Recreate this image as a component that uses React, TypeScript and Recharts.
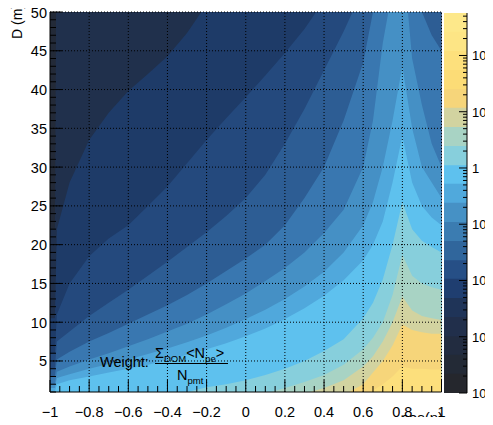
import { ComposedChart, Area, XAxis, YAxis } from 'recharts';

const FONT = '"Liberation Sans", Arial, Helvetica, sans-serif';

// cos(eta) sample positions
const cosEta = [-1, -0.975, -0.965, -0.9, -0.8, -0.7, -0.6, -0.5, -0.4, -0.3, -0.2, -0.1, 0, 0.1, 0.2, 0.3, 0.4, 0.5, 0.6, 0.65, 0.7, 0.75, 0.8, 0.85, 0.9, 0.95, 1];

// upper D edge (m) of each contour level at every cosEta
const level0 = [70, 70, 70, 70, 70, 70, 70, 70, 70, 70, 70, 70, 70, 70, 70, 70, 70, 70, 70, 70, 70, 70, 70, 70, 70, 70, 70];
const level1 = [22, 22, 70, 70, 70, 70, 70, 70, 70, 70, 70, 70, 70, 70, 70, 70, 70, 70, 70, 70, 70, 70, 70, 70, 70, 70, 70];
const level2 = [10.5, 10.5, 22, 28, 33.5, 37, 39.8, 42, 44.3, 47.3, 51, 55, 60, 65, 70, 70, 70, 70, 70, 70, 70, 70, 70, 70, 70, 70, 70];
const level3 = [6, 6, 11, 15, 18.5, 20.8, 22.5, 25, 27.5, 30.5, 33.5, 36.3, 39, 41.8, 44.7, 47.8, 51.5, 56, 62, 66, 70, 70, 70, 70, 70, 70, 70];
const level4 = [4, 4, 7.5, 8.8, 10.8, 12.5, 14.2, 16, 17.8, 19.7, 21.6, 23.7, 26, 29, 33, 37.5, 42.5, 47.5, 53, 57, 62, 66, 70, 70, 68, 62, 58];
const level5 = [3, 3, 5.2, 6.2, 7.5, 8.6, 9.8, 11, 12.2, 13.5, 15, 16.6, 18.2, 20, 22.5, 26, 30, 36, 43.5, 50, 56, 62, 70, 58, 50, 47, 45];
const level6 = [2, 2, 3.6, 4.3, 5.2, 6, 6.9, 7.8, 8.8, 9.8, 11, 12.3, 13.7, 15.3, 17, 19, 21.5, 24.5, 30, 36, 46, 53, 58, 44, 38, 33, 30];
const level7 = [1.5, 1.5, 2.8, 3.3, 4, 4.6, 5.2, 5.9, 6.6, 7.4, 8.3, 9.3, 10.4, 11.6, 13, 14.6, 16.5, 19, 22.5, 25.5, 30, 36, 43, 35, 30, 28, 26];
const level8 = [1, 1, 2, 2.5, 3, 3.5, 4, 4.5, 5.1, 5.8, 6.5, 7.3, 8.2, 9.2, 10.4, 11.8, 13.4, 15.4, 18, 20, 23, 28, 34, 28, 25, 23.5, 22.5];
const level9 = [0, 0, 0, 0, 0, 0, 0, 0, 0.5, 1, 1.6, 2, 2.5, 3.2, 4, 5, 6.3, 7.8, 10.5, 12.5, 15.5, 20, 25.5, 22, 20.5, 19.7, 19];
const level10 = [0, 0, 0, 0, 0, 0, 0, 0, 0, 0, 0, 0, 0, 0.8, 1.5, 2.3, 3.2, 4.5, 6.5, 8, 10, 13.5, 18.7, 16, 15, 14.5, 14.2];
const level11 = [0, 0, 0, 0, 0, 0, 0, 0, 0, 0, 0, 0, 0, 0, 0, 0.8, 1.5, 2.5, 4.3, 5.6, 7.5, 10, 13.3, 11.5, 10.8, 10.5, 10.3];
const level12 = [0, 0, 0, 0, 0, 0, 0, 0, 0, 0, 0, 0, 0, 0, 0, 0, 0, 0.6, 2, 3.5, 5, 7, 9.7, 9, 8.7, 8.5, 8.5];
const level13 = [0, 0, 0, 0, 0, 0, 0, 0, 0, 0, 0, 0, 0, 0, 0, 0, 0, 0, 0.5, 1.2, 2, 3, 4.3, 4, 4, 3.9, 3.9];

const levels = [level0, level1, level2, level3, level4, level5, level6, level7, level8, level9, level10, level11, level12, level13];
const levelColors = ['#232a38', '#20304c', '#1e3b68', '#24497d', '#2d5d94', '#3977b0', '#4590c5', '#50a8dc', '#5ec1ee', '#87cfdc', '#a8d3c4', '#d2d3a0', '#f6d57a', '#fcdf7c'];

// colour bar: log10 edges of the 20 bands and their colours (bottom -> top)
const barEdges = [-4, -3.66, -3.32, -2.99, -2.65, -2.31, -1.97, -1.64, -1.3, -0.96, -0.62, -0.28, 0.05, 0.39, 0.73, 1.07, 1.4, 1.74, 2.08, 2.42, 2.755];
const barColors = ['#25272d', '#232a36', '#222c40', '#212f4b', '#1f3458', '#1f3e70', '#264f86', '#30669c', '#3b7cb1', '#4691c5', '#50a9dc', '#5ec1ee', '#87cfdc', '#a8d3c4', '#d2d3a0', '#f6d57a', '#fcdc76', '#fde07c', '#fde585', '#fde88a'];
const barDecades = [-4, -3, -2, -1, 0, 1, 2];

const xMajor = [-1, -0.8, -0.6, -0.4, -0.2, 0, 0.2, 0.4, 0.6, 0.8, 1];
const yMajor = [5, 10, 15, 20, 25, 30, 35, 40, 45, 50];

const PLOT_TOP = 12;
const PLOT_BOTTOM = 392;
const PLOT_LEFT = 50;
const PLOT_RIGHT = 441.5;

const xTicks: number[] = [];
for (let i = 0; i <= 40; i++) xTicks.push(Math.round((-1 + i * 0.05) * 100) / 100);
const yTicks: number[] = [];
for (let d = 1; d <= 50; d++) yTicks.push(d);
const barTicks: number[] = [];
barDecades.forEach((n) => {
  for (let k = 1; k <= 9; k++) {
    const v = n + Math.log10(k);
    if (v <= 2.755) barTicks.push(v);
  }
});

const rows = cosEta.map((x, i) => {
  const r: any = { x };
  levels.forEach((l, j) => (r[`l${j}`] = l[i]));
  return r;
});

const barRows = [0, 1].map((x) => {
  const r: any = { x };
  barEdges.slice(1).forEach((e, j) => (r[`b${j}`] = e));
  return r;
});

const fmtX = (v: number) => (v === 0 ? '0' : v < 0 ? `\u2212${Math.abs(v)}` : `${v}`);

function XTick({ x, y, payload }: any) {
  const v = payload.value;
  const major = xMajor.some((m) => Math.abs(m - v) < 1e-6);
  return (
    <g>
      {major && v > -1 && (
        <line x1={x} x2={x} y1={PLOT_BOTTOM} y2={PLOT_TOP} stroke="#000" strokeDasharray="1 2" />
      )}
      <line x1={x} x2={x} y1={y} y2={y - (major ? 12 : 6)} stroke="#000" />
      {major && (
        <text x={x} y={y + 25} textAnchor="middle" fontSize={14.5} fontFamily={FONT} fill="#000">
          {fmtX(v)}
        </text>
      )}
    </g>
  );
}

function YTick({ x, y, payload }: any) {
  const v = payload.value;
  const major = yMajor.includes(v);
  return (
    <g>
      {major && <line x1={PLOT_LEFT} x2={PLOT_RIGHT} y1={y} y2={y} stroke="#000" strokeDasharray="1 2" />}
      <line x1={x} x2={x + (major ? 12 : 6)} y1={y} y2={y} stroke="#000" />
      {major && (
        <text x={x - 3} y={y + 5.5} textAnchor="end" fontSize={14.5} fontFamily={FONT} fill="#000">
          {v}
        </text>
      )}
    </g>
  );
}

function BarTick({ x, y, payload }: any) {
  const v = payload.value;
  const major = Math.abs(v - Math.round(v)) < 1e-6;
  const n = Math.round(v);
  return (
    <g>
      <line x1={x} x2={x - (major ? 8 : 4)} y1={y} y2={y} stroke="#000" />
      {major && (
        <text x={x + 5} y={y + 5} fontSize={13} fontFamily={FONT} fill="#000">
          {n === 0 ? '1' : '10'}
          {n !== 0 && n !== 1 && (
            <tspan dy={-6} fontSize={9.5}>
              {n < 0 ? `\u2212${-n}` : `${n}`}
            </tspan>
          )}
        </text>
      )}
    </g>
  );
}

export default function App() {
  return (
    <div style={{ position: 'relative', width: 493, height: 425, margin: -8, overflow: 'hidden', background: '#fff' }}>
      <div style={{ position: 'absolute', left: 0, top: 0 }}>
        <ComposedChart width={493} height={425} data={rows} margin={{ top: PLOT_TOP, right: 493 - PLOT_RIGHT, bottom: 0, left: 0 }}>
          {levels.map((_, j) => (
            <Area
              key={j}
              dataKey={`l${j}`}
              type="linear"
              fill={levelColors[j]}
              fillOpacity={1}
              stroke="none"
              dot={false}
              activeDot={false}
              isAnimationActive={false}
            />
          ))}
          <XAxis
            type="number"
            dataKey="x"
            domain={[-1, 1]}
            ticks={xTicks}
            interval={0}
            allowDataOverflow
            height={33}
            tickSize={0}
            tickMargin={0}
            tick={<XTick />}
            axisLine={{ stroke: '#000' }}
          />
          <YAxis
            type="number"
            domain={[1, 50]}
            ticks={yTicks}
            interval={0}
            allowDataOverflow
            width={PLOT_LEFT}
            tickSize={0}
            tickMargin={0}
            tick={<YTick />}
            axisLine={{ stroke: '#000' }}
          />
        </ComposedChart>
      </div>
      <div style={{ position: 'absolute', left: 0, top: 0 }}>
        <ComposedChart width={493} height={425} data={barRows} margin={{ top: 13, right: 0, bottom: 32, left: 444 }}>
          {barEdges.slice(1).map((_, j) => barEdges.length - 2 - j).map((j) => (
            <Area
              key={j}
              dataKey={`b${j}`}
              type="linear"
              baseValue={-4}
              fill={barColors[j]}
              fillOpacity={1}
              stroke="none"
              dot={false}
              activeDot={false}
              isAnimationActive={false}
            />
          ))}
          <XAxis type="number" dataKey="x" domain={[0, 1]} hide />
          <YAxis
            orientation="right"
            type="number"
            domain={[-4, 2.755]}
            ticks={barTicks}
            interval={0}
            allowDataOverflow
            width={26}
            tickSize={0}
            tickMargin={0}
            tick={<BarTick />}
            axisLine={{ stroke: '#000' }}
          />
        </ComposedChart>
      </div>
      <svg width={493} height={425} style={{ position: 'absolute', left: 0, top: 0, pointerEvents: 'none' }} fontFamily={FONT}>
        <text x={0} y={0} fontSize={14} transform="translate(22 39) rotate(-90)">
          D (m)
        </text>
        <text x={443} y={423} textAnchor="end" fontSize={15}>
          cos(η)
        </text>
        <text x={100} y={367} fontSize={14.5}>
          Weight:
        </text>
        <text x={155} y={358} fontSize={14.5}>
          Σ<tspan fontSize={9.5} dy={4}>DOM</tspan>
          <tspan dy={-4}>&lt;N</tspan>
          <tspan fontSize={9.5} dy={4}>pe</tspan>
          <tspan dy={-4}>&gt;</tspan>
        </text>
        <line x1={155} x2={228} y1={363.5} y2={363.5} stroke="#000" strokeWidth={1.2} />
        <text x={177} y={380} fontSize={14.5}>
          N<tspan fontSize={9.5} dy={4}>pmt</tspan>
        </text>
      </svg>
    </div>
  );
}
